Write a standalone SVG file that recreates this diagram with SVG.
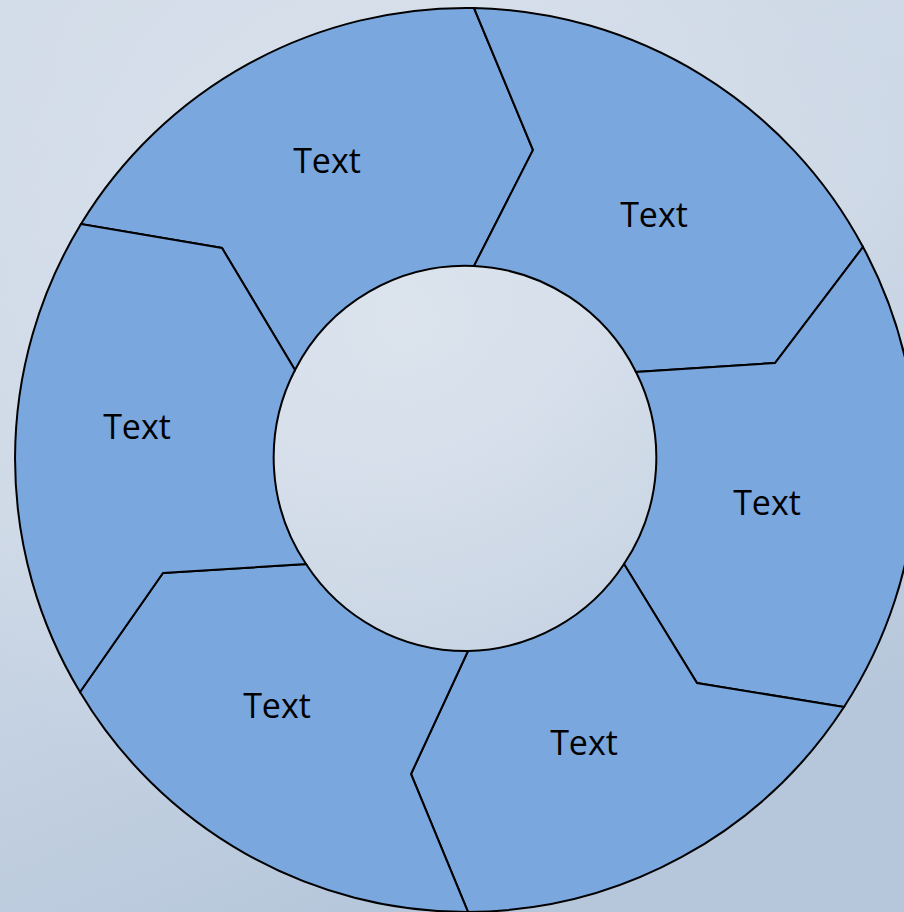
<svg xmlns="http://www.w3.org/2000/svg" width="904" height="912" viewBox="0 0 904 912">
<defs>
<linearGradient id="bg" x1="0" y1="0" x2="0.4" y2="1">
<stop offset="0" stop-color="#d2dce8"/>
<stop offset="0.5" stop-color="#cdd8e6"/>
<stop offset="1" stop-color="#b7c7db"/>
</linearGradient>
<radialGradient id="hl" cx="0.45" cy="0.35" r="0.6">
<stop offset="0" stop-color="#dfe6ef" stop-opacity="0.8"/>
<stop offset="1" stop-color="#dfe6ef" stop-opacity="0"/>
</radialGradient>
</defs>
<style>
.seg{fill:#7aa7de;stroke:#000;stroke-width:2;stroke-linejoin:miter}
.lbl{font-family:"Open Sans","Liberation Sans",sans-serif;font-size:34px;fill:#000;text-anchor:middle}
</style>
<rect width="904" height="912" fill="url(#bg)"/>
<rect width="904" height="912" fill="url(#hl)"/>
<g id="connectors"/>
<g id="seg-top">
<path class="seg" d="M81,224 A451,451 0 0 1 474,8 L533,150 L474,266 A191,191 0 0 0 295,370 L222,248 Z"/>
<text class="lbl" x="327" y="173">Text</text>
</g>
<g id="seg-upper-right">
<path class="seg" d="M474,8 A451,451 0 0 1 863,247 L775,363 L636,372 A191,191 0 0 0 474,266 L533,150 Z"/>
<text class="lbl" x="654" y="227">Text</text>
</g>
<g id="seg-right">
<path class="seg" d="M863,247 A451,451 0 0 1 844,707 L697,683 L624,564 A191,191 0 0 0 636,372 L775,363 Z"/>
<text class="lbl" x="767" y="515">Text</text>
</g>
<g id="seg-bottom-right">
<path class="seg" d="M844,707 A451,451 0 0 1 468,912 L411,774 L468,651 A191,191 0 0 0 624,564 L697,683 Z"/>
<text class="lbl" x="584" y="755">Text</text>
</g>
<g id="seg-bottom-left">
<path class="seg" d="M468,912 A451,451 0 0 1 80,692 L163,573 L306,564 A191,191 0 0 0 468,651 L411,774 Z"/>
<text class="lbl" x="277" y="718">Text</text>
</g>
<g id="seg-left">
<path class="seg" d="M80,692 A451,451 0 0 1 81,224 L222,248 L295,370 A191,191 0 0 0 306,564 L163,573 Z"/>
<text class="lbl" x="137" y="439">Text</text>
</g>
</svg>
